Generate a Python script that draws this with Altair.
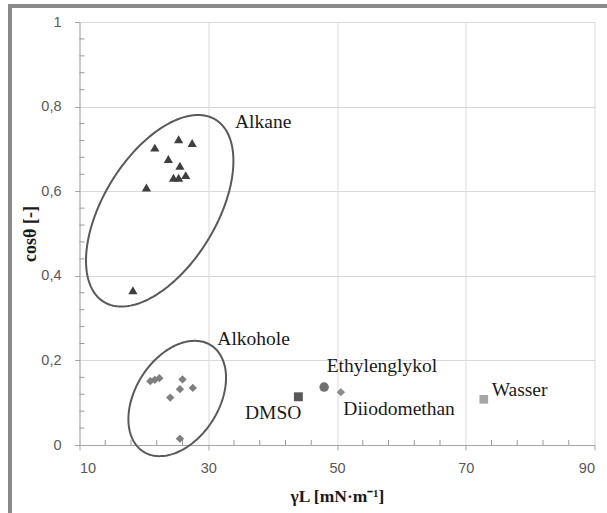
import altair as alt
import numpy as np
import pandas as pd

# ---------------- data ----------------
alkane_x = [21.7, 25.4, 27.5, 23.8, 25.6, 24.6, 25.4, 26.5, 20.4, 18.3]
alkane_y = [0.703, 0.723, 0.714, 0.676, 0.660, 0.632, 0.632, 0.638, 0.609, 0.366]

alkohol_x = [21.0, 21.7, 22.4, 26.0, 25.6, 27.6, 24.1, 25.6]
alkohol_y = [0.151, 0.154, 0.158, 0.155, 0.132, 0.135, 0.112, 0.015]

single_names = ["DMSO", "Ethylenglykol", "Diiodomethan", "Wasser"]
single_x = [44.0, 48.0, 50.6, 72.8]
single_y = [0.114, 0.137, 0.125, 0.108]

label_text = ["Alkane", "Alkohole", "Ethylenglykol", "DMSO", "Diiodomethan", "Wasser"]
label_x = [34.16, 31.41, 48.40, 35.71, 50.98, 74.03]
label_y = [0.749, 0.236, 0.172, 0.061, 0.071, 0.116]

x_major = [10, 30, 50, 70, 90]
x_minor = [14, 18, 22, 26, 34, 38, 42, 46, 54, 58, 62, 66, 74, 78, 82, 86]
y_major = [0, 0.2, 0.4, 0.6, 0.8, 1]
y_minor = [0.04, 0.08, 0.12, 0.16, 0.24, 0.28, 0.32, 0.36, 0.44, 0.48, 0.52, 0.56,
           0.64, 0.68, 0.72, 0.76, 0.84, 0.88, 0.92, 0.96]

# ellipse outlines (center in data units, semi-axes in screen px, tilt in degrees)
ell_name = ["Alkane", "Alkohole"]
ell_cx = [22.46, 25.18]
ell_cy = [0.5537, 0.110]
ell_a = [106.9, 63.0]
ell_b = [56.4, 41.7]
ell_phi = [58.5, 57.5]

W, H = 515, 423
px_per_x = W / 80.0
px_per_y = H / 1.0

rows = []
for n, cx, cy, a, b, phi in zip(ell_name, ell_cx, ell_cy, ell_a, ell_b, ell_phi):
    p = np.deg2rad(phi)
    for i, t in enumerate(np.linspace(0, 2 * np.pi, 181)):
        dx = a * np.cos(t) * np.cos(p) - b * np.sin(t) * np.sin(p)
        dy = a * np.cos(t) * np.sin(p) + b * np.sin(t) * np.cos(p)
        rows.append({"e": n, "i": i, "x": cx + dx / px_per_x, "y": cy + dy / px_per_y})
ell_df = pd.DataFrame(rows)

alk_df = pd.DataFrame({"x": alkane_x, "y": alkane_y})
alc_df = pd.DataFrame({"x": alkohol_x, "y": alkohol_y})
sing_df = pd.DataFrame({"name": single_names, "x": single_x, "y": single_y})
lab_df = pd.DataFrame({"t": label_text, "x": label_x, "y": label_y})
xmin_df = pd.DataFrame({"x": x_minor})
ymin_df = pd.DataFrame({"y": y_minor})

xs = alt.Scale(domain=[10, 90], nice=False, zero=False)
ys = alt.Scale(domain=[0, 1], nice=False, zero=False)

AX_COL = "#a6a6a6"

x_axis = alt.Axis(values=x_major, grid=True, gridColor="#d9d9d9", domainColor=AX_COL,
                  tickColor=AX_COL, tickSize=5, labelPadding=11, labelFont="Liberation Sans",
                  labelFontSize=14.5, labelColor="#595959", title="γL [mN·m⁻¹]",
                  titleFont="Liberation Serif", titleFontSize=17.5, titleFontWeight="bold",
                  titleColor="#1a1a1a", titleBaseline="alphabetic", titleY=56.7, orient="bottom")
y_axis = alt.Axis(values=y_major, grid=True, gridColor="#d9d9d9", domainColor=AX_COL,
                  tickColor=AX_COL, tickSize=5, labelPadding=13.5, format="~g",
                  labelExpr="replace(datum.label, '.', ',')", labelFont="Liberation Sans",
                  labelFontSize=14.5, labelColor="#595959", title="cosθ [-]",
                  titleFont="Liberation Serif", titleFontSize=18, titleFontWeight="bold",
                  titleColor="#1a1a1a", titleAngle=270, titleAlign="center",
                  titleBaseline="middle", titleX=-49.5, titleY=211.5, orient="left")

frame = alt.Chart(pd.DataFrame({"a": [0]})).mark_rect(
    fill="transparent", stroke="#8a8a8a", strokeWidth=4
).encode(x=alt.value(-69.5), x2=alt.value(800), y=alt.value(-16), y2=alt.value(800))

# minor tick marks (inside the plot, as in the reference)
x_minor_ticks = alt.Chart(xmin_df).mark_tick(color="#999999", thickness=1, size=5,
                                             orient="vertical", opacity=1).encode(
    x=alt.X("x:Q", scale=xs), y=alt.value(H - 2.5))
y_minor_ticks = alt.Chart(ymin_df).mark_tick(color="#999999", thickness=1, size=5,
                                             orient="horizontal", opacity=1).encode(
    y=alt.Y("y:Q", scale=ys), x=alt.value(2.5))

main = alt.Chart(alk_df).mark_point(shape="triangle-up", filled=True, color="#3f3f3f",
                                    size=85, opacity=1).encode(
    x=alt.X("x:Q", scale=xs, axis=x_axis),
    y=alt.Y("y:Q", scale=ys, axis=y_axis),
)

enc = dict(x=alt.X("x:Q", scale=xs), y=alt.Y("y:Q", scale=ys))

ellipses = alt.Chart(ell_df).mark_line(color="#595959", strokeWidth=2).encode(
    detail="e:N", order="i:Q", **enc)

alc = alt.Chart(alc_df).mark_point(shape="diamond", filled=True, color="#7f7f7f",
                                   size=70, opacity=1).encode(**enc)

single_layers = []
shapes = {"DMSO": ("square", "#595959", 80), "Ethylenglykol": ("circle", "#707070", 90),
          "Diiodomethan": ("diamond", "#8c8c8c", 70), "Wasser": ("square", "#a6a6a6", 75)}
for n in single_names:
    shp, col, sz = shapes[n]
    single_layers.append(
        alt.Chart(sing_df[sing_df.name == n]).mark_point(shape=shp, filled=True, color=col,
                                                          size=sz, opacity=1).encode(**enc))

labels = alt.Chart(lab_df).mark_text(font="Liberation Serif", fontSize=19.5, align="left",
                                     baseline="alphabetic", color="#1a1a1a").encode(
    text="t:N", **enc)

chart = alt.layer(main, ellipses, alc, *single_layers, labels, frame,
                  x_minor_ticks, y_minor_ticks).properties(
    width=W, height=H,
    autosize=alt.AutoSizeParams(type="none"),
    padding={"left": 79.5, "top": 22, "right": 12.5, "bottom": 68},
    background="white",
).configure_view(strokeWidth=0)

chart.save("out.html", embed_options={"renderer": "svg", "actions": False})
